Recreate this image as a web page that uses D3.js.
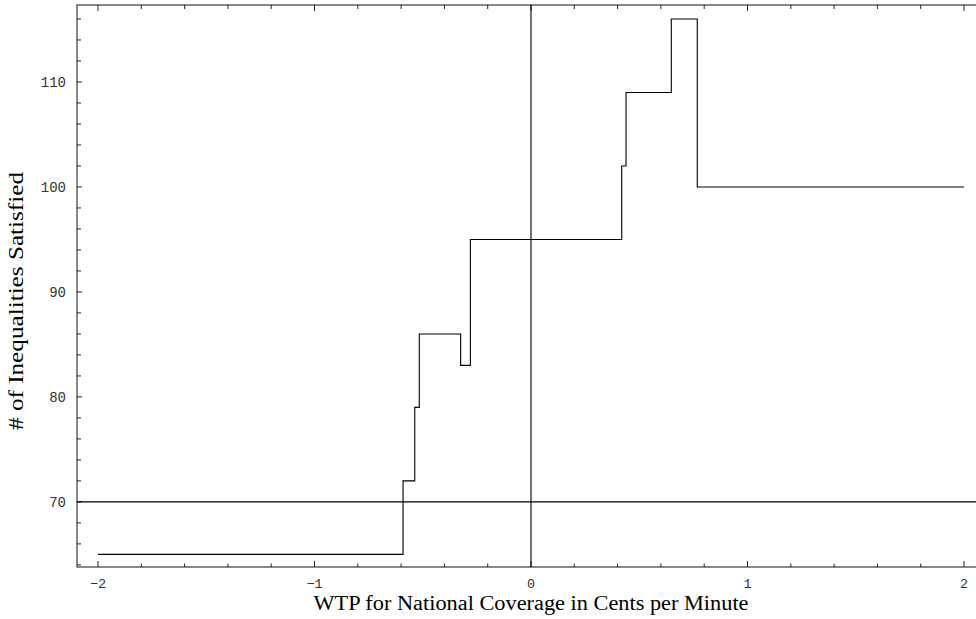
<!DOCTYPE html>
<html>
<head>
<meta charset="utf-8">
<script src="https://cdn.jsdelivr.net/npm/d3@7"></script>
<style>
  html, body { margin: 0; padding: 0; background: #fff; }
  svg { display: block; }
</style>
</head>
<body>
<svg id="chart" width="976" height="619"></svg>
<script>
// step function: level value holds from stepX[i] up to stepX[i+1]
var stepX = [-2, -0.591, -0.537, -0.516, -0.325, -0.28, 0.419, 0.439, 0.648, 0.768, 2];
var stepY = [65, 72, 79, 86, 83, 95, 102, 109, 116, 100, 100];

var xTicks = [-2, -1, 0, 1, 2];
var yTicks = [70, 80, 90, 100, 110];
var xLabel = "WTP for National Coverage in Cents per Minute";
var yLabel = "# of Inequalities Satisfied";

var svg = d3.select("#chart");

// plot frame, right side runs a bit past the window
var x = d3.scaleLinear().domain([-2.097, 2.097]).range([77, 985]);
var y = d3.scaleLinear().domain([63.8, 117.33]).range([567, 5]);

var frame = svg.append("g").attr("class", "frame");
frame.append("rect")
    .attr("x", x.range()[0]).attr("y", y.range()[1])
    .attr("width", x.range()[1] - x.range()[0])
    .attr("height", y.range()[0] - y.range()[1])
    .attr("fill", "none").attr("stroke", "#3a3a3a").attr("stroke-width", 1.2);

// minor ticks every 0.2 on x, every 2 on y
var xMinor = d3.range(-20, 21, 2).map(function (d) { return d / 10; });
var yMinor = d3.range(64, 117, 2);

function isMajorX(v) { return Math.abs(v - Math.round(v)) < 1e-6; }
function isMajorY(v) { return v % 10 === 0; }

frame.selectAll("line.xb").data(xMinor).enter().append("line")
    .attr("class", "xb")
    .attr("x1", function (d) { return x(d); }).attr("x2", function (d) { return x(d); })
    .attr("y1", y.range()[0])
    .attr("y2", function (d) { return y.range()[0] - (isMajorX(d) ? 6 : 3.5); })
    .attr("stroke", "#222").attr("stroke-width", 1);

frame.selectAll("line.xt").data(xMinor).enter().append("line")
    .attr("class", "xt")
    .attr("x1", function (d) { return x(d); }).attr("x2", function (d) { return x(d); })
    .attr("y1", y.range()[1])
    .attr("y2", function (d) { return y.range()[1] + (isMajorX(d) ? 6 : 4); })
    .attr("stroke", "#222").attr("stroke-width", 1);

frame.selectAll("line.yl").data(yMinor).enter().append("line")
    .attr("class", "yl")
    .attr("x1", x.range()[0])
    .attr("x2", function (d) { return x.range()[0] + (isMajorY(d) ? 5 : 4); })
    .attr("y1", function (d) { return y(d); }).attr("y2", function (d) { return y(d); })
    .attr("stroke", "#222").attr("stroke-width", 1);

// tick labels
frame.selectAll("text.xl").data(xTicks).enter().append("text")
    .attr("class", "xl")
    .attr("x", function (d) { return x(d); })
    .attr("y", 588)
    .attr("text-anchor", "middle")
    .attr("font-family", "'Liberation Mono', 'DejaVu Sans Mono', monospace")
    .attr("font-size", 13.5)
    .attr("fill", "#333")
    .text(function (d) { return d < 0 ? "\u2212" + Math.abs(d) : d; });

frame.selectAll("text.yt").data(yTicks).enter().append("text")
    .attr("class", "yt")
    .attr("x", 66)
    .attr("y", function (d) { return y(d) + 5; })
    .attr("text-anchor", "end")
    .attr("font-family", "'Liberation Mono', 'DejaVu Sans Mono', monospace")
    .attr("font-size", 14)
    .attr("fill", "#333")
    .text(function (d) { return d; });

// axes through the origin (x = 0, y = 70)
svg.append("line")
    .attr("x1", x(0)).attr("x2", x(0))
    .attr("y1", y.range()[1]).attr("y2", y.range()[0])
    .attr("stroke", "#000").attr("stroke-width", 1.1);
svg.append("line")
    .attr("x1", x.range()[0]).attr("x2", x.range()[1])
    .attr("y1", y(70)).attr("y2", y(70))
    .attr("stroke", "#000").attr("stroke-width", 1.1);

// the step curve
var pts = stepX.map(function (v, i) { return [v, stepY[i]]; });
var line = d3.line()
    .x(function (d) { return x(d[0]); })
    .y(function (d) { return y(d[1]); })
    .curve(d3.curveStepAfter);

svg.append("path")
    .datum(pts)
    .attr("d", line)
    .attr("fill", "none")
    .attr("stroke", "#000")
    .attr("stroke-width", 1.1);

// axis titles (stretched a little, like the original export)
svg.append("text")
    .attr("x", x(0)).attr("y", 610)
    .attr("text-anchor", "middle")
    .attr("font-family", "'Liberation Serif', 'Times New Roman', serif")
    .attr("font-size", 20)
    .attr("textLength", 435)
    .attr("lengthAdjust", "spacingAndGlyphs")
    .attr("fill", "#000")
    .text(xLabel);

svg.append("text")
    .attr("transform", "translate(23,301) rotate(-90)")
    .attr("text-anchor", "middle")
    .attr("font-family", "'Liberation Serif', 'Times New Roman', serif")
    .attr("font-size", 22)
    .attr("textLength", 258)
    .attr("lengthAdjust", "spacingAndGlyphs")
    .attr("fill", "#000")
    .text(yLabel);
</script>
</body>
</html>
